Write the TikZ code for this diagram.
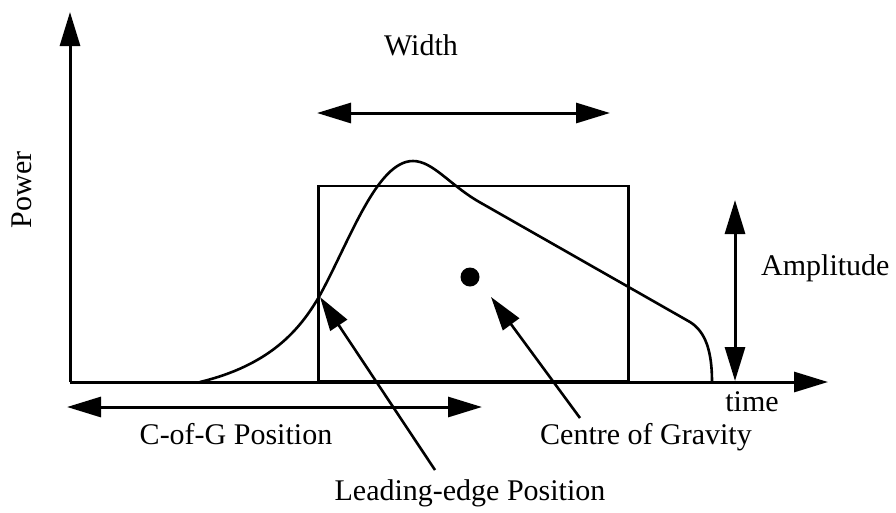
\documentclass[tikz,border=0pt]{standalone}
\usepackage{fontspec}
\setmainfont{Liberation Serif}
\usetikzlibrary{arrows.meta}
\tikzset{
  bigtip/.style={-{Triangle[length=34pt,width=20pt]}},
  dbltip/.style={{Triangle[length=34pt,width=20pt]}-{Triangle[length=34pt,width=20pt]}},
  thick line/.style={line width=3pt},
  lbl/.style={font=\fontsize{30}{34}\selectfont, inner sep=0pt},
}
\begin{document}
\begin{tikzpicture}[x=1pt,y=-1pt]
\useasboundingbox (0,0) rectangle (896,512);
% axes
\coordinate (O) at (70,382);
\coordinate (ytop) at (70,12);
\coordinate (xend) at (828,382);
\draw[thick line, bigtip] (O) -- (ytop);
\draw[thick line, bigtip] (O) -- (xend);
% rectangle
\node[draw, line width=2.5pt, minimum width=310pt, minimum height=195pt, inner sep=0pt, anchor=south west] (rect) at (317,382) {};
% pulse curve
\draw[line width=2.6pt] (200,382) .. controls (270,365) and (300,330) .. (320,295)
  .. controls (350,240) and (377,161) .. (413,161)
  .. controls (433,161) and (450,185.4) .. (480,202.4)
  -- (690,322) .. controls (706,332) and (712,352) .. (712,382);
% centre of gravity dot
\node[circle, fill=black, minimum size=19pt, inner sep=0pt] (cog) at (470,277) {};
% width arrow
\coordinate (wl) at (317,113);
\coordinate (wr) at (610,113);
\draw[thick line, dbltip] (wl) -- (wr);
\node[lbl] (width) at (421,45) {Width};
% amplitude arrow
\coordinate (at) at (735,200);
\coordinate (ab) at (735,381);
\draw[thick line, dbltip] (at) -- (ab);
\node[lbl, anchor=west] (amp) at (761,268) {Amplitude};
% time
\node[lbl] (time) at (752,402) {time};
% power
\node[lbl, rotate=90] (power) at (22,190) {Power};
% C-of-G arrow
\coordinate (cl) at (67,407);
\coordinate (cr) at (482,407);
\draw[thick line, dbltip] (cl) -- (cr);
\node[lbl] (cofg) at (236,434) {C-of-G Position};
% leading edge arrow
\coordinate (lt) at (320,297);
\coordinate (lb) at (435,470);
\draw[line width=2.6pt, bigtip] (lb) -- (lt);
\node[lbl] (lead) at (470,493) {Leading-edge Position};
% centre of gravity arrow
\coordinate (gt) at (491,297);
\coordinate (gb) at (580,418);
\draw[line width=2.6pt, bigtip] (gb) -- (gt);
\node[lbl] (cog label) at (646,437) {Centre of Gravity};
\end{tikzpicture}
\end{document}
